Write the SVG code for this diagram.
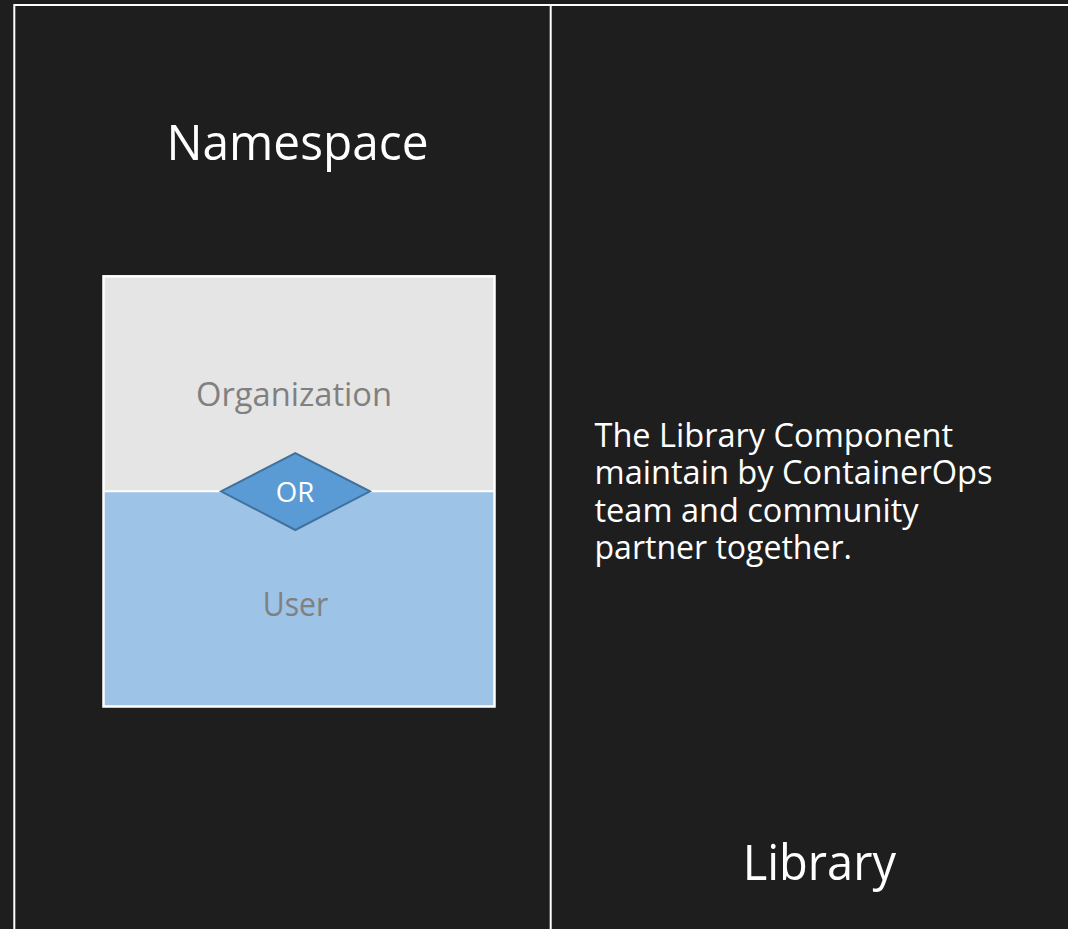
<svg xmlns="http://www.w3.org/2000/svg" width="1068" height="929" viewBox="0 0 1068 929">
<style>
.t{font-family:"Open Sans","Noto Sans","Liberation Sans",sans-serif;}
.w{fill:#ffffff;}
.g{fill:#808080;}
.frame{fill:none;stroke:#ffffff;stroke-width:2;}
</style>
<rect x="0" y="0" width="1068" height="929" fill="#1e1e1e"/>
<g id="frame">
<rect class="frame" x="14.3" y="5" width="1070" height="940"/>
<line class="frame" x1="550.7" y1="5" x2="550.7" y2="935"/>
</g>
<g id="namespace-title">
<text class="t w" x="297.5" y="160" font-size="50" text-anchor="middle" textLength="262" lengthAdjust="spacingAndGlyphs">Namespace</text>
</g>
<g id="organization">
<rect x="103.5" y="276.3" width="391" height="215" fill="#e5e5e5"/>
<text class="t g" x="294" y="406" font-size="33" text-anchor="middle" textLength="196" lengthAdjust="spacingAndGlyphs">Organization</text>
</g>
<g id="user">
<rect x="103.5" y="491" width="391" height="215.5" fill="#9dc3e6"/>
<text class="t g" x="295.5" y="615.7" font-size="33" text-anchor="middle" textLength="65.6" lengthAdjust="spacingAndGlyphs">User</text>
</g>
<g id="connectors">
<rect x="103.5" y="276.3" width="391" height="430.2" fill="none" stroke="#ffffff" stroke-width="2.5"/>
<line x1="103.5" y1="491.2" x2="494.5" y2="491.2" stroke="#ffffff" stroke-width="2"/>
</g>
<g id="or">
<polygon points="221,491.3 295.3,453 370,491.3 295.3,530" fill="#5b9bd5" stroke="#41719c" stroke-width="2"/>
<text class="t w" x="295" y="502" font-size="27" text-anchor="middle" textLength="38.5" lengthAdjust="spacingAndGlyphs">OR</text>
</g>
<g id="library-desc">
<text class="t w" font-size="32.5">
<tspan x="594.5" y="446.7" textLength="358.5" lengthAdjust="spacingAndGlyphs">The Library Component</tspan>
<tspan x="594.5" y="484.2" textLength="398" lengthAdjust="spacingAndGlyphs">maintain by ContainerOps</tspan>
<tspan x="594.5" y="521.5" textLength="324" lengthAdjust="spacingAndGlyphs">team and community</tspan>
<tspan x="594.5" y="559" textLength="257.5" lengthAdjust="spacingAndGlyphs">partner together.</tspan>
</text>
</g>
<g id="library-title">
<text class="t w" x="819.3" y="880" font-size="50" text-anchor="middle" textLength="153.3" lengthAdjust="spacingAndGlyphs">Library</text>
</g>
</svg>
